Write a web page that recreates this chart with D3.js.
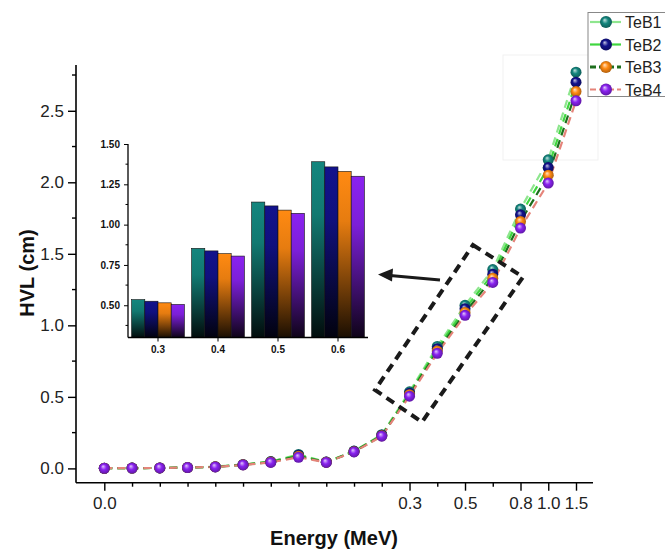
<!DOCTYPE html>
<html><head><meta charset="utf-8">
<script src="https://cdn.jsdelivr.net/npm/d3@7/dist/d3.min.js"></script>
<style>body{margin:0;background:#fff}svg{display:block}text{font-family:"Liberation Sans",Arial,sans-serif}</style>
</head><body><svg id="c" width="665" height="549"></svg>
<script>
// ---- data ----
const energies = [0.01,0.015,0.02,0.03,0.04,0.05,0.06,0.08,0.1,0.15,0.2,0.3,0.4,0.5,0.6,0.8,1.0,1.5];
const labeledEnergies = [0.01,0.3,0.5,0.8,1.0,1.5];
const seriesNames = ["TeB1","TeB2","TeB3","TeB4"];
const teb1 = [0.001,0.002,0.003,0.007,0.012,0.027,0.048,0.098,0.045,0.121,0.236,0.535,0.853,1.140,1.390,1.813,2.157,2.770];
const teb2 = [0.001,0.002,0.003,0.006,0.011,0.026,0.046,0.092,0.044,0.119,0.232,0.525,0.837,1.116,1.358,1.773,2.103,2.700];
const teb3 = [0.001,0.002,0.003,0.006,0.011,0.025,0.044,0.085,0.043,0.117,0.228,0.515,0.820,1.090,1.330,1.726,2.050,2.635];
const teb4 = [0.001,0.002,0.003,0.006,0.010,0.024,0.042,0.078,0.042,0.115,0.225,0.505,0.805,1.070,1.300,1.680,1.995,2.570];
const yTicks = [0,0.5,1.0,1.5,2.0,2.5];
const insetEnergies = [0.3,0.4,0.5,0.6];
const insetTicks = [0.5,0.75,1.0,1.25,1.5];

const allSeries = [teb1,teb2,teb3,teb4];
const markerColors = ["#14867e","#12128c","#ff8a12","#8a22f0"];
const lineColors = ["#8ee68e","#3fd63f","#1d6e1d","#e5847a"];

const svg = d3.select("#c");
const defs = svg.append("defs");
markerColors.forEach((c,i)=>{
  const g = defs.append("radialGradient").attr("id","sph"+i).attr("cx","50%").attr("cy","50%").attr("r","55%").attr("fx","38%").attr("fy","32%");
  g.append("stop").attr("offset","0%").attr("stop-color",d3.interpolateRgb(c,"#fff")(0.75));
  g.append("stop").attr("offset","45%").attr("stop-color",c);
  g.append("stop").attr("offset","100%").attr("stop-color",d3.interpolateRgb(c,"#000")(0.35));
  const b = defs.append("linearGradient").attr("id","bar"+i).attr("x1",0).attr("y1",0).attr("x2",0).attr("y2",1);
  b.append("stop").attr("offset","0%").attr("stop-color",c);
  b.append("stop").attr("offset","30%").attr("stop-color",d3.interpolateRgb(c,"#000")(0.1));
  b.append("stop").attr("offset","100%").attr("stop-color",d3.interpolateRgb(c,"#000")(0.9));
});

// faint artifact rectangle
svg.append("rect").attr("x",503).attr("y",55).attr("width",95).attr("height",105).attr("fill","none").attr("stroke","#f1f1f1");

// ---- main scales ----
const x = d3.scalePoint().domain(energies).range([104.3,576]);
const y = d3.scaleLinear().domain([-0.1,2.82]).range([482.7,65]);
const axL = 76, axR = 593;

// axes
const fmt1 = d3.format(".1f");
const xAxis = d3.axisBottom(x).tickValues(energies).tickSize(8).tickPadding(6)
  .tickFormat(d => labeledEnergies.includes(d) ? fmt1(d) : "");
const gx = svg.append("g").attr("transform",`translate(0,${y(-0.1)})`).call(xAxis);
gx.select(".domain").remove();
gx.selectAll(".tick line").attr("stroke","#000").attr("stroke-width",1.4)
  .attr("y2", d => labeledEnergies.includes(d) ? 8 : 4);
gx.selectAll(".tick text").attr("font-size",17).attr("fill","#222").attr("font-family","Liberation Sans, Arial");
gx.append("line").attr("x1",axL).attr("x2",axR).attr("stroke","#000").attr("stroke-width",1.6);

const yAxis = d3.axisLeft(y).tickValues(yTicks).tickSize(8).tickPadding(4).tickFormat(fmt1);
const gy = svg.append("g").attr("transform",`translate(${axL},0)`).call(yAxis);
gy.select(".domain").remove();
gy.selectAll(".tick line").attr("stroke","#000").attr("stroke-width",1.4);
gy.selectAll(".tick text").attr("font-size",17).attr("fill","#222").attr("font-family","Liberation Sans, Arial");
const minorY = d3.range(0.25,2.8,0.5);
gy.selectAll(".minor").data(minorY).join("line").attr("x1",-4).attr("x2",0)
  .attr("y1",d=>y(d)).attr("y2",d=>y(d)).attr("stroke","#000").attr("stroke-width",1.4);
gy.append("line").attr("y1",y(-0.1)).attr("y2",y(2.82)).attr("stroke","#000").attr("stroke-width",1.6);

// axis titles
svg.append("text").attr("x",334).attr("y",545).attr("text-anchor","middle")
  .attr("font-size",20).attr("font-weight","bold").attr("fill","#111").text("Energy (MeV)");
svg.append("text").attr("transform","translate(34,273) rotate(-90)").attr("text-anchor","middle")
  .attr("font-size",20).attr("font-weight","bold").attr("fill","#111").text("HVL (cm)");

// ---- series ----
const line = d3.line().x((d,i)=>x(energies[i])).y(d=>y(d));
allSeries.forEach((s,k)=>{
  svg.append("path").datum(s).attr("d",line).attr("fill","none")
    .attr("stroke",lineColors[k]).attr("stroke-width",2.2).attr("stroke-dasharray","8,5");
});
allSeries.forEach((s,k)=>{
  svg.append("g").selectAll("circle").data(s).join("circle")
    .attr("cx",(d,i)=>x(energies[i])).attr("cy",d=>y(d)).attr("r",5.5)
    .attr("fill",`url(#sph${k})`);
});

// ---- dashed box & arrow ----
svg.append("polygon").attr("points","473,245 523,277 422,422 375,390")
  .attr("fill","none").attr("stroke","#1a1a1a").attr("stroke-width",4).attr("stroke-dasharray","9,6");
svg.append("line").attr("x1",440).attr("y1",280).attr("x2",390).attr("y2",275.5)
  .attr("stroke","#1a1a1a").attr("stroke-width",3);
svg.append("polygon").attr("points","378,274.5 393,268.5 392,281.5").attr("fill","#1a1a1a");

// ---- inset ----
const xi = d3.scaleBand().domain(insetEnergies).range([128,368]).paddingInner(0.12).paddingOuter(0.06);
const xs = d3.scaleBand().domain(seriesNames).range([0,xi.bandwidth()]);
const yi = d3.scaleLinear().domain([0.3,1.5]).range([337.5,144]);
const ins = svg.append("g");
insetEnergies.forEach((e)=>{
  const idx = energies.indexOf(e);
  ins.append("g").selectAll("rect").data(allSeries.map((s,k)=>({k,v:s[idx]}))).join("rect")
    .attr("x",d=>xi(e)+xs(seriesNames[d.k])).attr("width",xs.bandwidth())
    .attr("y",d=>yi(d.v)).attr("height",d=>yi(0.3)-yi(d.v))
    .attr("fill",d=>`url(#bar${d.k})`).attr("stroke","#111").attr("stroke-width",0.6);
});
const giy = ins.append("g").attr("transform","translate(128,0)")
  .call(d3.axisLeft(yi).tickValues(insetTicks).tickSize(4).tickPadding(4).tickFormat(d3.format(".2f")));
giy.select(".domain").remove();
giy.selectAll(".tick text").attr("font-size",10).attr("font-weight","bold").attr("fill","#111").attr("font-family","Liberation Sans, Arial");
giy.selectAll(".minor").data(d3.range(0.375,1.5,0.25)).join("line").attr("x1",-2.5).attr("x2",0)
  .attr("y1",d=>yi(d)).attr("y2",d=>yi(d)).attr("stroke","#000");
giy.append("line").attr("y1",yi(0.3)).attr("y2",yi(1.5)).attr("stroke","#000").attr("stroke-width",1.3);
const gix = ins.append("g").attr("transform",`translate(0,${yi(0.3)})`)
  .call(d3.axisBottom(xi).tickSize(4).tickPadding(4).tickFormat(d3.format(".1f")));
gix.select(".domain").remove();
gix.selectAll(".tick text").attr("font-size",10).attr("font-weight","bold").attr("fill","#111").attr("font-family","Liberation Sans, Arial");
gix.append("line").attr("x1",128).attr("x2",368).attr("stroke","#000").attr("stroke-width",1.3);

// ---- legend ----
const lg = svg.append("g");
lg.append("rect").attr("x",588).attr("y",12.5).attr("width",100).attr("height",84)
  .attr("fill","#fff").attr("stroke","#888").attr("stroke-width",1);
const dashes = [null,null,"6,3","6,3"];
seriesNames.forEach((n,k)=>{
  const yy = 22 + k*22.5;
  lg.append("line").attr("x1",590).attr("x2",621).attr("y1",yy).attr("y2",yy)
    .attr("stroke",lineColors[k]).attr("stroke-width",k===2?3:2.2).attr("stroke-dasharray",dashes[k]);
  lg.append("circle").attr("cx",606).attr("cy",yy).attr("r",6).attr("fill",`url(#sph${k})`);
  lg.append("text").attr("x",625).attr("y",yy+6).attr("font-size",16).attr("fill","#222").text(n);
});
</script></body></html>
